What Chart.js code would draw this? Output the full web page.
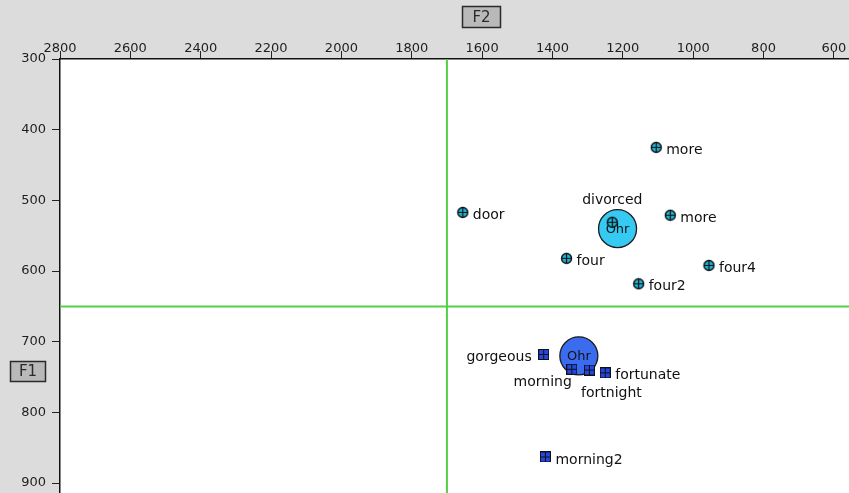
<!DOCTYPE html>
<html>
<head>
<meta charset="utf-8">
<script src="https://cdn.jsdelivr.net/npm/chart.js@4.4.0/dist/chart.umd.min.js"></script>
<style>
  html, body { margin: 0; padding: 0; background: #dcdcdc; }
  canvas { display: block; }
</style>
</head>
<body>
<canvas id="formants" width="849" height="493"></canvas>
<script>
// Formant plot: F2 (Hz) across the top, reversed; F1 (Hz) down the side.
const f2Ticks = [2800, 2600, 2400, 2200, 2000, 1800, 1600, 1400, 1200, 1000, 800, 600];
const f1Ticks = [300, 400, 500, 600, 700, 800, 900];

// Reference lines
const refF2 = 1700;
const refF1 = 650;

// Tokens of the first vowel group (cyan crosshair markers)
const cyanWords = ['more', 'door', 'divorced', 'more', 'four', 'four4', 'four2'];
const cyanF2 = [1105, 1655, 1230, 1065, 1360, 955, 1155];
const cyanF1 = [425, 517, 531, 521, 582, 592, 618];

// Tokens of the second vowel group (blue square markers)
const blueWords = ['gorgeous', 'morning', 'fortnight', 'fortunate', 'morning2'];
const blueF2 = [1425, 1345, 1295, 1250, 1420];
const blueF1 = [718, 739, 740, 744, 863];

// Group means
const meanLabels = ['Ohr', 'Ohr'];
const meanF2 = [1215, 1325];
const meanF1 = [540, 720];

// Where each token's word sits relative to its marker
const cyanPlace = ['right', 'right', 'above', 'right', 'right', 'right', 'right'];
const bluePlace = ['left', 'belowLeft', 'belowRight', 'right', 'right'];

const PLACE = {
  right:      { align: 'left',   dx: 10,  dy: 3 },
  left:       { align: 'right',  dx: -12, dy: 3 },
  above:      { align: 'center', dx: 0,   dy: -22 },
  belowLeft:  { align: 'right',  dx: 0,   dy: 13 },
  belowRight: { align: 'center', dx: 22,  dy: 23 }
};

const MEAN_RADIUS = 19;
const LABEL_FONT = '14px "DejaVu Sans"';
const TICK_FONT = { family: 'DejaVu Sans', size: 13 };

function crossMarker() {
  const c = document.createElement('canvas');
  c.width = c.height = 13;
  const g = c.getContext('2d');
  g.beginPath();
  g.arc(6.5, 6.5, 5, 0, Math.PI * 2);
  g.fillStyle = '#1db4d6';
  g.fill();
  g.lineWidth = 1.4;
  g.strokeStyle = '#111';
  g.stroke();
  g.beginPath();
  g.moveTo(1.5, 6.5); g.lineTo(11.5, 6.5);
  g.moveTo(6.5, 1.5); g.lineTo(6.5, 11.5);
  g.lineWidth = 1.2;
  g.stroke();
  return c;
}

function gridMarker() {
  const c = document.createElement('canvas');
  c.width = c.height = 11;
  const g = c.getContext('2d');
  g.fillStyle = '#111';
  g.fillRect(0, 0, 11, 11);
  g.fillStyle = '#2347e0';
  g.fillRect(1, 1, 4, 4);
  g.fillRect(6, 1, 4, 4);
  g.fillRect(1, 6, 4, 4);
  g.fillRect(6, 6, 4, 4);
  return c;
}

const backdrop = {
  id: 'backdrop',
  beforeDraw(chart) {
    const { ctx, chartArea: a } = chart;
    ctx.save();
    ctx.fillStyle = '#dcdcdc';
    ctx.fillRect(0, 0, chart.width, chart.height);
    ctx.fillStyle = '#ffffff';
    ctx.fillRect(a.left, a.top, a.right - a.left, a.bottom - a.top);
    ctx.restore();
  }
};

const refLines = {
  id: 'refLines',
  beforeDatasetsDraw(chart) {
    const { ctx, chartArea: a, scales } = chart;
    const x = scales.x.getPixelForValue(refF2);
    const y = scales.y.getPixelForValue(refF1);
    ctx.save();
    ctx.strokeStyle = '#55d046';
    ctx.lineWidth = 2;
    ctx.beginPath();
    ctx.moveTo(x, a.top); ctx.lineTo(x, a.bottom);
    ctx.moveTo(a.left, y); ctx.lineTo(a.right, y);
    ctx.stroke();
    ctx.restore();
  }
};

const meanText = {
  id: 'meanText',
  afterDatasetDraw(chart, args) {
    if (args.index !== 2) return;
    const { ctx } = chart;
    ctx.save();
    ctx.font = '13px "DejaVu Sans"';
    ctx.fillStyle = '#111';
    ctx.textAlign = 'center';
    ctx.textBaseline = 'middle';
    args.meta.data.forEach((el, i) => {
      ctx.fillText(meanLabels[i], el.x, el.y + 1);
    });
    ctx.restore();
  }
};

const wordLabels = {
  id: 'wordLabels',
  afterDatasetsDraw(chart) {
    const { ctx } = chart;
    ctx.save();
    ctx.font = LABEL_FONT;
    ctx.fillStyle = '#111';
    ctx.textBaseline = 'middle';
    [[0, cyanWords, cyanPlace], [1, blueWords, bluePlace]].forEach(([di, words, places]) => {
      chart.getDatasetMeta(di).data.forEach((el, i) => {
        const p = PLACE[places[i]];
        ctx.textAlign = p.align;
        ctx.fillText(words[i], el.x + p.dx, el.y + p.dy);
      });
    });
    ctx.restore();
  }
};

function axisBox(ctx, text, x, y, w, h) {
  ctx.fillStyle = '#b9b9b9';
  ctx.fillRect(x, y, w, h);
  ctx.strokeStyle = '#2a2a2a';
  ctx.lineWidth = 1.5;
  ctx.strokeRect(x + 0.5, y + 0.5, w - 1, h - 1);
  ctx.fillStyle = '#2a2a2a';
  ctx.font = '15px "DejaVu Sans"';
  ctx.textAlign = 'center';
  ctx.textBaseline = 'middle';
  ctx.fillText(text, x + w / 2, y + h / 2 + 1);
}

const axisTitles = {
  id: 'axisTitles',
  afterDraw(chart) {
    const { ctx } = chart;
    ctx.save();
    axisBox(ctx, 'F2', 462, 6, 39, 22);
    axisBox(ctx, 'F1', 10, 361, 36, 21);
    ctx.restore();
  }
};

const toPoints = (xs, ys) => xs.map((x, i) => ({ x: x, y: ys[i] }));
const plainNumber = v => String(v);

new Chart(document.getElementById('formants'), {
  type: 'scatter',
  data: {
    datasets: [
      {
        label: 'group 1',
        data: toPoints(cyanF2, cyanF1),
        pointStyle: crossMarker(),
        pointRadius: 6
      },
      {
        label: 'group 2',
        data: toPoints(blueF2, blueF1),
        pointStyle: gridMarker(),
        pointRadius: 6
      },
      {
        type: 'bubble',
        label: 'means',
        data: meanF2.map((x, i) => ({ x: x, y: meanF1[i], r: MEAN_RADIUS })),
        backgroundColor: ['#36caf2', '#3b6cf0'],
        borderColor: '#1c1c1c',
        borderWidth: 1.3
      }
    ]
  },
  options: {
    responsive: false,
    animation: false,
    devicePixelRatio: 1,
    layout: { padding: 0, autoPadding: false },
    plugins: { legend: { display: false }, tooltip: { enabled: false } },
    scales: {
      x: {
        type: 'linear',
        position: 'top',
        reverse: true,
        min: 557,
        max: 2800,
        afterBuildTicks(s) { s.ticks = f2Ticks.map(v => ({ value: v })); },
        afterFit(s) { s.height = 59; s.paddingLeft = 0; s.paddingRight = 0; },
        grid: { drawOnChartArea: false, drawTicks: true, tickLength: 8, color: '#222', lineWidth: 1 },
        border: { color: '#111', width: 1.5 },
        ticks: { padding: -5, color: '#1e1e1e', font: TICK_FONT, maxRotation: 0, autoSkip: false, callback: plainNumber }
      },
      y: {
        type: 'linear',
        position: 'left',
        reverse: true,
        min: 300,
        max: 914,
        afterBuildTicks(s) { s.ticks = f1Ticks.map(v => ({ value: v })); },
        afterFit(s) { s.width = 60; s.paddingTop = 0; s.paddingBottom = 0; },
        grid: { drawOnChartArea: false, drawTicks: true, tickLength: 8, color: '#222', lineWidth: 1 },
        border: { color: '#111', width: 1.5 },
        ticks: { padding: 6, color: '#1e1e1e', font: TICK_FONT, autoSkip: false, callback: plainNumber }
      }
    }
  },
  plugins: [backdrop, refLines, meanText, wordLabels, axisTitles]
});
</script>
</body>
</html>
